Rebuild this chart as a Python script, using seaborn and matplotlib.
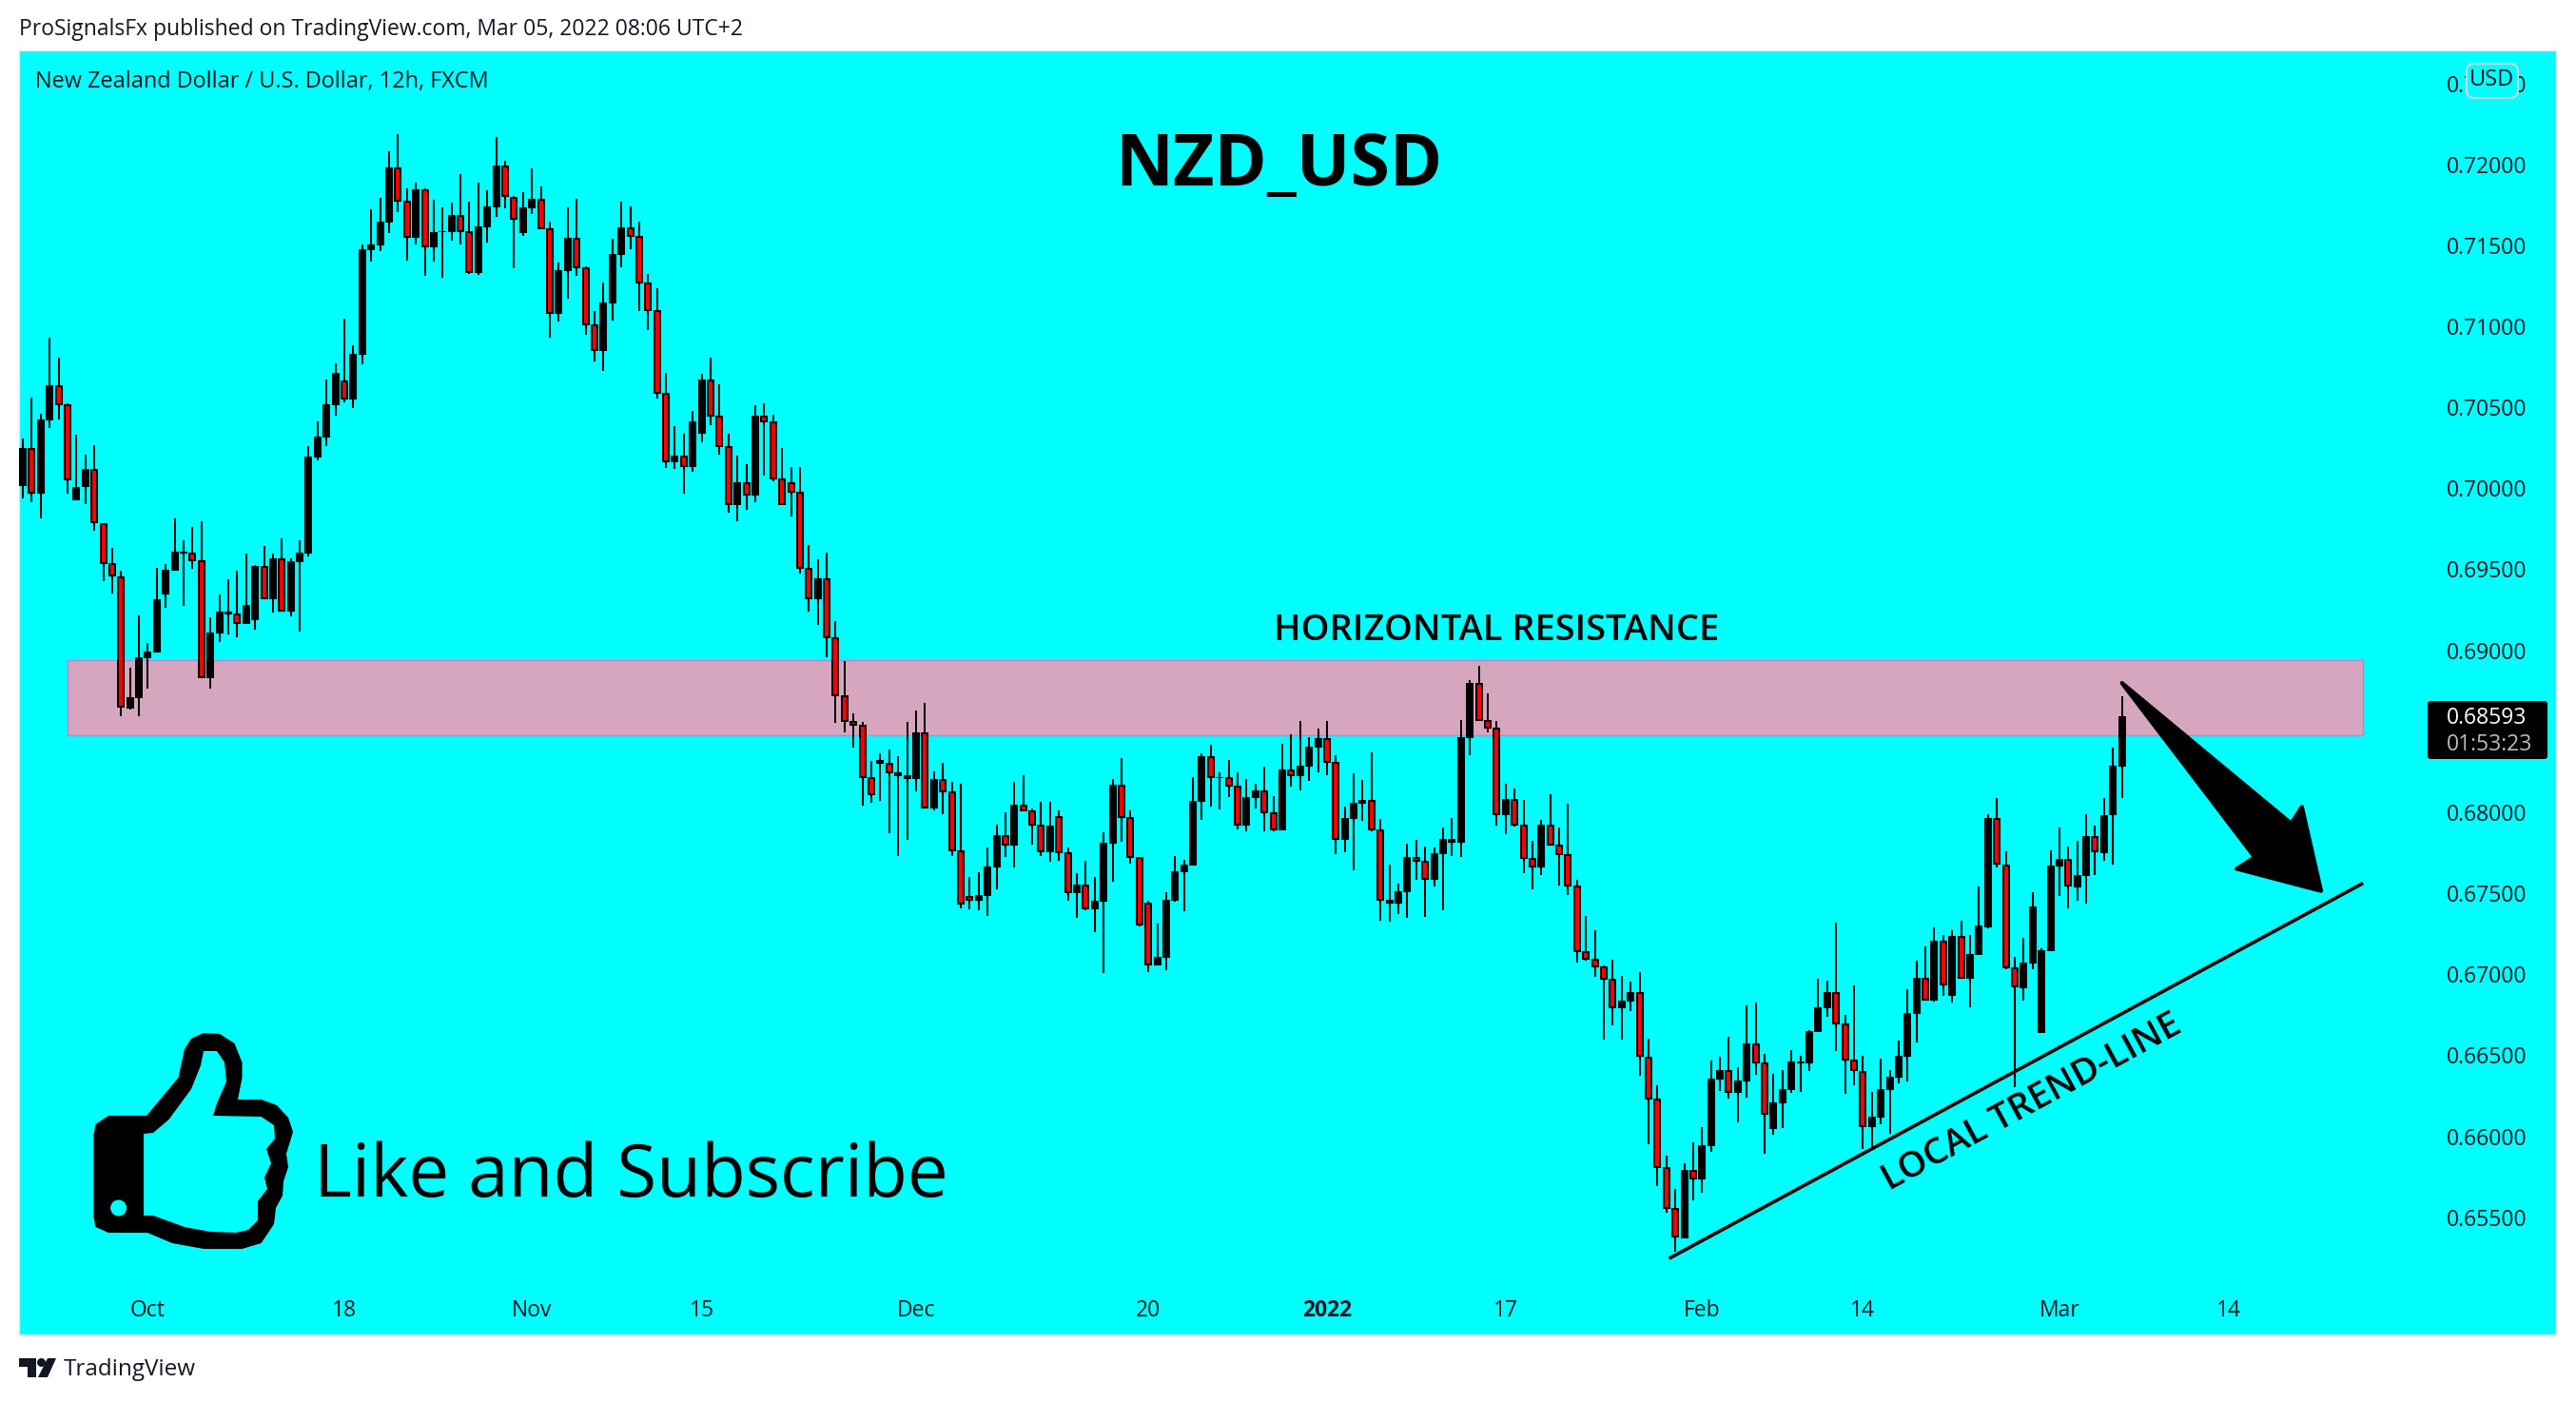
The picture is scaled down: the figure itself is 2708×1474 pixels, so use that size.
"""NZD/USD 12h candles with resistance zone, trend line and arrow."""

import numpy as np
import pandas as pd
import matplotlib.pyplot as plt
import seaborn as sns
from matplotlib.patches import Circle, FancyBboxPatch, PathPatch, Polygon, Rectangle
from matplotlib.path import Path

# Prices in units of 1e-5, one value per 12h candle
opens = [
    70016, 70250, 69965, 70421, 70637, 70520, 69927, 70006, 70120, 69782,
    69540, 69456, 68641, 68705, 68952, 68987, 69344, 69491, 69598, 69603,
    69555, 68827, 69104, 69222, 69227, 69163, 69186, 69522, 69316, 69568,
    69239, 69545, 69598, 70187, 70314, 70512, 70665, 70548, 70823, 71470,
    71500, 71640, 71981, 71775, 71546, 71847, 71488, 71579, 71582, 71686,
    71587, 71329, 71612, 71735, 71992, 71799, 71577, 71729, 71787, 71606,
    71077, 71340, 71545, 71364, 71013, 70847, 71142, 71440, 71612, 71557,
    71270, 71101, 70590, 70160, 70201, 70131, 70336, 70671, 70449, 70260,
    69897, 70038, 69956, 70449, 70412, 70061, 70038, 69979, 69509, 69316,
    69445, 69080, 68723, 68563, 68539, 68218, 68300, 68305, 68224, 68206,
    68207, 68491, 68023, 68203, 68127, 67763, 67481, 67453, 67483, 67659,
    67858, 67794, 68044, 68011, 67921, 67753, 67976, 67753, 67500, 67553,
    67400, 67447, 67806, 68170, 67970, 67723, 67442, 67054, 67101, 67453,
    67629, 67671, 68064, 68346, 68209, 68217, 68164, 67917, 68087, 68134,
    67999, 67888, 68263, 68222, 68281, 68399, 68457, 68310, 67829, 67958,
    68052, 68076, 67894, 67436, 67436, 67506, 67724, 67700, 67583, 67741,
    67812, 67812, 68457, 68798, 68569, 68522, 67982, 68082, 67923, 67718,
    67659, 67923, 67800, 67741, 67547, 67142, 67095, 67048, 66972, 66790,
    66831, 66887, 66488, 66230, 65807, 65557, 65369, 65792, 65733, 65938,
    66349, 66408, 66267, 66338, 66572, 66455, 66044, 66203, 66285, 66451,
    66449, 66643, 66790, 66887, 66696, 66473, 66402, 66056, 66114, 66285,
    66361, 66490, 66754, 66978, 66837, 67206, 66866, 67236, 66972, 67118,
    67290, 67964, 67679, 67040, 66913, 67066, 66638, 67142, 67667, 67710,
    67537, 67605, 67850, 67748, 67980, 68280,
]
highs = [
    70309, 70561, 70461, 70930, 70808, 70523, 70332, 70207, 70265, 69782,
    69632, 69491, 68893, 69217, 69046, 69509, 69532, 69815, 69680, 69761,
    69797, 69204, 69344, 69438, 69491, 69598, 69527, 69644, 69598, 69690,
    69568, 69680, 70260, 70413, 70673, 70772, 71047, 70884, 71505, 71722,
    71793, 72081, 72185, 71852, 71887, 71852, 71780, 71734, 71762, 71941,
    71770, 71887, 71840, 72170, 72021, 71805, 71828, 71974, 71863, 71647,
    71393, 71735, 71787, 71370, 71095, 71270, 71539, 71770, 71741, 71647,
    71323, 71235, 70712, 70382, 70336, 70479, 70707, 70806, 70642, 70336,
    70201, 70149, 70514, 70525, 70455, 70248, 70131, 70131, 69649, 69561,
    69602, 69179, 68933, 68609, 68557, 68317, 68364, 68387, 68346, 68557,
    68628, 68674, 68250, 68303, 68187, 68175, 67600, 67629, 67782, 67923,
    67999, 68187, 68228, 68023, 68064, 68064, 68011, 67782, 67624, 67700,
    67600, 67876, 68205, 68334, 68011, 67723, 67453, 67312, 67506, 67729,
    67706, 68217, 68363, 68416, 68246, 68322, 68246, 68205, 68175, 68281,
    68099, 68422, 68481, 68563, 68463, 68516, 68563, 68352, 68035, 68240,
    68199, 68369, 67958, 67677, 67559, 67806, 67829, 67788, 67782, 67906,
    67964, 68569, 68816, 68904, 68733, 68563, 68176, 68146, 68076, 67823,
    67952, 68111, 67906, 68052, 67583, 67359, 67271, 67054, 67089, 66990,
    66954, 67013, 66602, 66314, 65880, 65674, 65833, 65962, 66056, 66467,
    66490, 66614, 66426, 66807, 66825, 66508, 66385, 66408, 66531, 66496,
    66655, 66972, 66960, 67318, 66749, 66931, 66496, 66273, 66478, 66408,
    66590, 66907, 67083, 67171, 67289, 67242, 67271, 67330, 67242, 67541,
    67990, 68087, 67758, 67106, 67224, 67506, 67162, 67766, 67906, 67791,
    67824, 67990, 67916, 68087, 68397, 68715,
]
lows = [
    69937, 69914, 69815, 70370, 70426, 69968, 69927, 69901, 69738, 69428,
    69351, 68593, 68633, 68593, 68763, 68987, 69262, 69491, 69275, 69504,
    68827, 68763, 69051, 69099, 69082, 69163, 69127, 69316, 69234, 69239,
    69209, 69115, 69581, 70174, 70260, 70449, 70530, 70495, 70764, 71398,
    71465, 71577, 71704, 71406, 71505, 71312, 71398, 71299, 71528, 71505,
    71322, 71317, 71516, 71676, 71729, 71358, 71557, 71694, 71600, 70929,
    71031, 71171, 71311, 70946, 70782, 70724, 71037, 71364, 71475, 71095,
    70975, 70555, 70125, 70119, 69967, 70102, 70283, 70388, 70207, 69848,
    69795, 69868, 69915, 70079, 70043, 69897, 69824, 69474, 69237, 69155,
    68957, 68551, 68492, 68399, 68040, 68057, 68069, 67870, 67729, 67829,
    68128, 68025, 68011, 67988, 67729, 67406, 67400, 67395, 67359, 67524,
    67723, 67659, 68007, 67800, 67729, 67694, 67700, 67453, 67348, 67395,
    67260, 67007, 67571, 67817, 67682, 67295, 67013, 67054, 67025, 67447,
    67389, 67671, 67952, 68035, 68017, 68093, 67894, 67882, 68023, 67882,
    67882, 67888, 68158, 68134, 68193, 68246, 68228, 67741, 67753, 67641,
    67946, 67882, 67330, 67324, 67371, 67348, 67583, 67354, 67542, 67395,
    67729, 67724, 68352, 68563, 68493, 67917, 67864, 67911, 67624, 67524,
    67612, 67794, 67547, 67489, 67072, 67084, 66984, 66596, 66684, 66596,
    66772, 66375, 65952, 65692, 65527, 65287, 65369, 65604, 65651, 65903,
    66279, 66232, 66085, 66238, 66379, 65891, 66009, 66050, 66267, 66273,
    66402, 66643, 66737, 66525, 66261, 66314, 65921, 65929, 66073, 66015,
    66326, 66338, 66578, 66837, 66831, 66866, 66825, 66972, 66795, 67118,
    67282, 67659, 67030, 66302, 66837, 67030, 66638, 67142, 67483, 67404,
    67455, 67437, 67613, 67702, 67674, 68087,
]
closes = [
    70250, 69965, 70426, 70637, 70515, 70046, 70008, 70120, 69782, 69535,
    69453, 68644, 68710, 68957, 68992, 69316, 69497, 69609, 69609, 69550,
    68827, 69110, 69239, 69239, 69163, 69280, 69522, 69316, 69568, 69239,
    69550, 69603, 70197, 70319, 70520, 70714, 70548, 70831, 71475, 71505,
    71645, 71981, 71770, 71546, 71847, 71488, 71582, 71587, 71686, 71582,
    71330, 71618, 71741, 71992, 71796, 71659, 71735, 71787, 71600, 71077,
    71346, 71545, 71358, 71007, 70847, 71148, 71446, 71612, 71551, 71264,
    71095, 70584, 70160, 70201, 70131, 70412, 70671, 70441, 70254, 69897,
    70038, 69956, 70449, 70406, 70055, 69897, 69973, 69503, 69316, 69445,
    69074, 68717, 68557, 68533, 68212, 68104, 68323, 68241, 68247, 68229,
    68492, 68025, 68205, 68123, 67759, 67430, 67455, 67489, 67665, 67858,
    67794, 68046, 68007, 67917, 67753, 67917, 67747, 67500, 67553, 67400,
    67453, 67811, 68170, 67964, 67718, 67301, 67054, 67107, 67459, 67635,
    67676, 68070, 68346, 68211, 68218, 68158, 67917, 68093, 68134, 67993,
    67888, 68263, 68222, 68287, 68404, 68457, 68305, 67829, 67964, 68058,
    68076, 67888, 67453, 67459, 67512, 67724, 67694, 67583, 67747, 67835,
    67835, 68463, 68798, 68563, 68516, 67982, 68082, 67917, 67712, 67659,
    67923, 67794, 67735, 67542, 67136, 67089, 67042, 66966, 66790, 66837,
    66890, 66488, 66226, 65803, 65551, 65375, 65792, 65733, 65944, 66355,
    66408, 66267, 66343, 66572, 66449, 66132, 66208, 66291, 66461, 66459,
    66649, 66795, 66889, 66690, 66467, 66402, 66056, 66120, 66291, 66367,
    66496, 66760, 66978, 66837, 67206, 66931, 67236, 66972, 67124, 67300,
    67964, 67679, 67038, 66918, 67071, 67417, 67150, 67672, 67710, 67539,
    67613, 67850, 67751, 67982, 68288, 68593,
]

# Axis labels, x positions counted in candles
x_tick_pos = [14, 36, 57, 76, 100, 126, 146, 166, 188, 206, 228, 247]
x_tick_labels = ["Oct", "18", "Nov", "15", "Dec", "20", "2022", "17", "Feb", "14", "Mar", "14"]
y_ticks = [0.655, 0.66, 0.665, 0.67, 0.675, 0.68, 0.685, 0.69, 0.695, 0.70, 0.705, 0.71, 0.715, 0.72, 0.725]

# Drawings on the chart
zone_top, zone_bottom = 0.68938, 0.68477
zone_x = [5.0, 262.0]
trend_x = [184.3, 262.0]
trend_y = [0.65245, 0.67562]
arrow_x = [235.0, 253.95, 255.15, 257.3, 247.84, 249.86]
arrow_y = [0.68798, 0.67931, 0.68033, 0.67514, 0.67651, 0.67722]

# Thumb icon outline, in picture pixels
thumb_outer = [
    (98.5, 1193), (100.5, 1182), (114, 1173), (154, 1173), (187.5, 1133), (194, 1103),
    (201, 1092), (214, 1086), (231, 1087), (246.5, 1097), (254.5, 1117), (254.5, 1133),
    (250, 1156), (274.6, 1156), (291, 1162), (303, 1175), (308, 1190), (301, 1213),
    (303, 1227), (298, 1242), (297, 1257), (290, 1270), (288, 1287), (274.6, 1307),
    (254.5, 1313), (214, 1313), (181, 1307), (155, 1296), (114, 1296), (100.5, 1290),
    (98.5, 1280),
]
thumb_inner = [
    (151, 1192), (161, 1191), (177.5, 1177), (201, 1145), (211, 1120), (214, 1105),
    (228, 1105), (236, 1117), (238, 1137), (228, 1160), (224, 1173), (274.6, 1174),
    (288, 1183), (289, 1197), (280, 1208), (285, 1223), (278, 1238), (281, 1250),
    (271, 1263), (271, 1283), (261, 1293), (248, 1296), (221, 1295), (194, 1290),
    (161, 1278), (151, 1278),
]

CYAN = "#00ffff"
TEXT = "#131722"
WIDTH, HEIGHT = 2708, 1474
PANEL = (20, 53, 2687, 1403)  # left, top, right, bottom in pixels

sns.set_theme(style="white", rc={"axes.facecolor": CYAN, "figure.facecolor": "white"})
plt.rcParams["font.family"] = ["Open Sans", "DejaVu Sans"]

fig = plt.figure(figsize=(WIDTH / 100, HEIGHT / 100), dpi=100)
ax = fig.add_axes([
    PANEL[0] / WIDTH,
    1 - PANEL[3] / HEIGHT,
    (PANEL[2] - PANEL[0]) / WIDTH,
    (PANEL[3] - PANEL[1]) / HEIGHT,
])

o = np.array(opens) / 1e5
h = np.array(highs) / 1e5
l = np.array(lows) / 1e5
c = np.array(closes) / 1e5
idx = np.arange(len(o))
y_min, y_max = 0.64776, 0.72703
price_per_px = (y_max - y_min) / (PANEL[3] - PANEL[1])

# Resistance zone sits under the candles
ax.add_patch(Rectangle((zone_x[0], zone_bottom), zone_x[1] - zone_x[0], zone_top - zone_bottom,
                       facecolor="#d6a5be", edgecolor="#c77fd0", linewidth=1, zorder=1))

body_top = np.maximum(o, c)
body_bottom = np.minimum(o, c)
wicks = pd.DataFrame({"idx": np.repeat(idx, 2), "price": np.column_stack([l, h]).ravel()})
bodies = pd.DataFrame({"idx": np.repeat(idx, 2), "price": np.column_stack([body_bottom, body_top]).ravel()})

# Red interior is inset by the 2 px black border
red = c < o
inner_top = body_top[red] - 2 * price_per_px
inner_bottom = np.minimum(body_bottom[red] + 2 * price_per_px, inner_top - price_per_px)
fills = pd.DataFrame({
    "idx": np.repeat(idx[red], 2),
    "price": np.column_stack([inner_bottom, inner_top]).ravel(),
})

line_kws = dict(x="idx", y="price", units="idx", estimator=None, sort=False, ax=ax, legend=False,
                solid_capstyle="butt", antialiased=False)
sns.lineplot(data=wicks, color="black", linewidth=1.44, zorder=3, **line_kws)
sns.lineplot(data=bodies, color="black", linewidth=5.76, zorder=3, **line_kws)
sns.lineplot(data=fills, color="#ff0000", linewidth=2.88, zorder=4, **line_kws)

# Trend line and arrow
ax.plot(trend_x, trend_y, color="black", linewidth=2.6, solid_capstyle="butt", zorder=5)
ax.add_patch(Polygon(np.column_stack([arrow_x, arrow_y]), closed=True, facecolor="black",
                     edgecolor="black", linewidth=3, joinstyle="round", zorder=6))

ax.set_xlim(-0.426, 283.6)
ax.set_ylim(y_min, y_max)
ax.set_xlabel("")
ax.set_ylabel("")
ax.set_xticks(x_tick_pos)
ax.set_xticklabels(x_tick_labels)
ax.yaxis.tick_right()
ax.set_yticks(y_ticks)
ax.set_yticklabels([f"{t:.5f}" for t in y_ticks])
ax.tick_params(axis="x", length=0, pad=-27, labelsize=16.5, labelcolor=TEXT)
ax.tick_params(axis="y", length=0, pad=-83, labelsize=16.5, labelcolor=TEXT)
ax.get_xticklabels()[6].set_fontweight("bold")
for spine in ax.spines.values():
    spine.set_color("#dfe3ea")
    spine.set_linewidth(1)

# Overlay in picture pixels for the decoration around the chart
over = fig.add_axes([0, 0, 1, 1], facecolor="none")
over.set_xlim(0, WIDTH)
over.set_ylim(HEIGHT, 0)
over.axis("off")

over.text(20, 31, "ProSignalsFx published on TradingView.com, Mar 05, 2022 08:06 UTC+2",
          fontsize=16.5, color=TEXT, va="center", ha="left")
over.text(37, 86, "New Zealand Dollar / U.S. Dollar, 12h, FXCM",
          fontsize=16.9, color=TEXT, va="center", ha="left")
over.text(1344, 175, "NZD_USD", fontsize=54, fontweight="bold", color="black", va="center", ha="center")
over.text(1573, 663, "HORIZONTAL RESISTANCE", fontsize=27.4, fontweight="semibold",
          color="black", va="center", ha="center")
over.text(330, 1238, "Like and Subscribe", fontsize=55, color="black", va="center", ha="left")
over.text(2136, 1159, "LOCAL TREND-LINE", fontsize=27.5, fontweight="semibold", color="black",
          rotation=28.5, rotation_mode="anchor", va="center", ha="center")

# USD badge over the top price label
over.add_patch(FancyBboxPatch((2599, 73), 42, 24, boxstyle="round,pad=6,rounding_size=8",
                              facecolor=CYAN, edgecolor="#d1d4dc", linewidth=1.5))
over.text(2620, 84, "USD", fontsize=17, color=TEXT, va="center", ha="center")

# Last price box
over.add_patch(FancyBboxPatch((2554, 739), 122, 57, boxstyle="round,pad=2,rounding_size=3",
                              facecolor="#000000", edgecolor="#000000", linewidth=0))
over.text(2572, 755, "0.68593", fontsize=16.5, color="white", va="center", ha="left")
over.text(2572, 783, "01:53:23", fontsize=16.5, color="#b8bbc2", va="center", ha="left")

# Thumb icon, the inner outline runs the other way so that it cuts a hole
inner_rev = thumb_inner[::-1]
verts = thumb_outer + [thumb_outer[0]] + inner_rev + [inner_rev[0]]
codes = ([Path.MOVETO] + [Path.LINETO] * (len(thumb_outer) - 1) + [Path.CLOSEPOLY]
         + [Path.MOVETO] + [Path.LINETO] * (len(inner_rev) - 1) + [Path.CLOSEPOLY])
over.add_patch(PathPatch(Path(verts, codes), facecolor="black", edgecolor="none", linewidth=0))
over.add_patch(Circle((124.6, 1270), 8.5, facecolor=CYAN, edgecolor="none"))

# TradingView logo and name at the bottom
logo_color = "#131722"
over.add_patch(Polygon([(20, 1428), (38, 1428), (38, 1448), (29, 1448), (29, 1437), (20, 1437)],
                       closed=True, facecolor=logo_color, edgecolor="none"))
over.add_patch(Circle((43.5, 1432.5), 4.5, facecolor=logo_color, edgecolor="none"))
over.add_patch(Polygon([(50, 1428), (59, 1428), (50, 1448), (40, 1448)],
                       closed=True, facecolor=logo_color, edgecolor="none"))
over.text(67, 1440, "TradingView", fontsize=17.5, color=TEXT, va="center", ha="left")

fig.savefig("out.png", dpi=100)
